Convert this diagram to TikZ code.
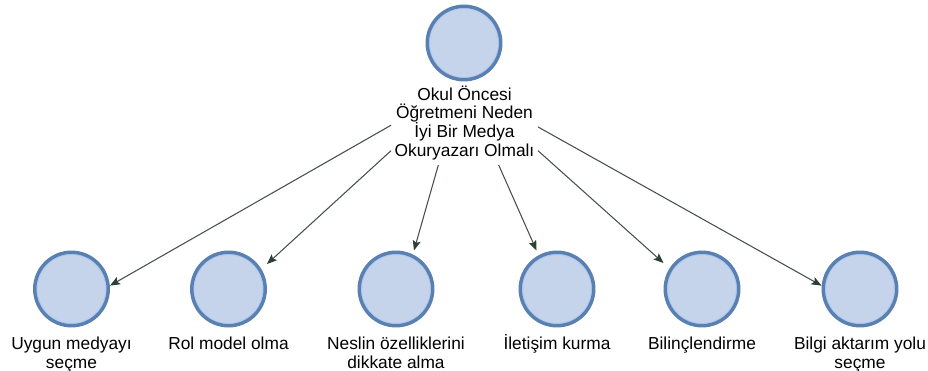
\documentclass[tikz,border=0pt]{standalone}
\usepackage{fontspec}
\setmainfont{Liberation Sans}
\usetikzlibrary{arrows.meta}
\definecolor{discfill}{RGB}{197,212,234}
\definecolor{discring}{RGB}{90,128,178}
\definecolor{discglow}{RGB}{176,204,240}
\definecolor{linkgray}{RGB}{72,80,76}
\definecolor{tipgreen}{RGB}{44,64,54}
% keeps the first line of every caption at the same height
\newcommand\capstrut{\vphantom{İÖ}}
\begin{document}
\begin{tikzpicture}[x=0.75pt,y=-0.75pt,
  disc/.style={rectangle, draw=none, inner sep=0pt, outer sep=0pt, minimum size=57.75pt,
    path picture={
      \fill[discfill] (path picture bounding box.center) circle (27.6pt);
      \draw[discglow, line width=0.8pt] (path picture bounding box.center) circle (25.8pt);
      \draw[discring, line width=2.6pt] (path picture bounding box.center) circle (27.55pt);
    }},
  caption/.style={inner sep=0pt, outer sep=0pt, align=center, anchor=north,
    font=\fontsize{13pt}{14pt}\selectfont, text=black},
  group/.style={rectangle, draw=none, inner sep=0pt, outer sep=0pt},
  link/.style={draw=linkgray, line width=0.8pt,
    -{Stealth[length=7.5pt, width=6pt, inset=1.5pt, color=tipgreen]}}
]
\useasboundingbox (0,0) rectangle (928,371);

% central concept: disc, caption and the box that holds both
\node[group, minimum width=110.25pt, minimum height=120.75pt] (g0) at (464.5,84.5) {};
\node[disc] (c0) at (464,43) {};
\node[caption] (t0) at (464.5,85)
  {\capstrut Okul Öncesi\\Öğretmeni Neden\\İyi Bir Medya\\Okuryazarı Olmalı};

% reasons
\node[disc] (c1) at (71.5,289) {};
\node[disc] (c2) at (228.5,289) {};
\node[disc] (c3) at (396,289) {};
\node[disc] (c4) at (557,289) {};
\node[disc] (c5) at (702,289) {};
\node[disc] (c6) at (860,289) {};

\node[caption] (t1) at (71.5,334.5) {\capstrut Uygun medyayı\\seçme};
\node[caption] (t2) at (228.5,334.5) {\capstrut Rol model olma};
\node[caption] (t3) at (396,334.5) {\capstrut Neslin özelliklerini\\dikkate alma};
\node[caption] (t4) at (557,334.5) {\capstrut İletişim kurma};
\node[caption] (t5) at (702,334.5) {\capstrut Bilinçlendirme};
\node[caption] (t6) at (860,334.5) {\capstrut Bilgi aktarım yolu\\seçme};

% connectors
\draw[link] (g0.209.57) -- (c1.5.05);
\draw[link] (g0.222.2) -- (c2.33.4);
\draw[link] (g0.252.9) -- (c3.65.56);
\draw[link] (g0.293.4) -- (c4.118.3);
\draw[link] (g0.318.0) -- (c5.146.8);
\draw[link] (g0.330.6) -- (c6.175.25);
\end{tikzpicture}
\end{document}
